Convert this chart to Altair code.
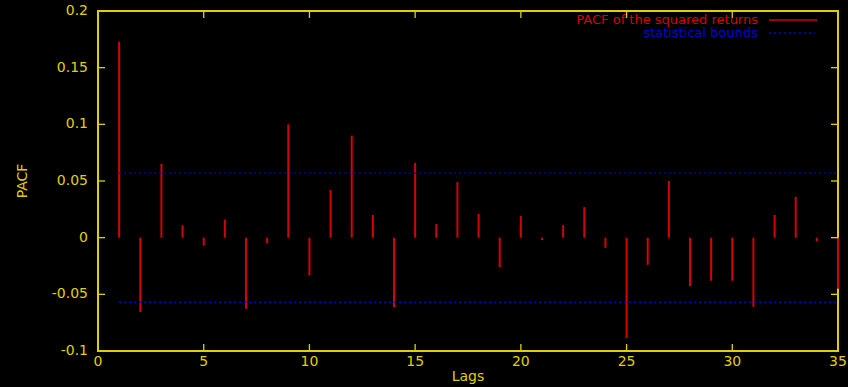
import altair as alt
import pandas as pd

# ---- data ----
lags = list(range(1, 36))
pacf = [0.173, -0.0656, 0.065, 0.011, -0.007, 0.016, -0.0627, -0.005, 0.100, -0.033,
        0.042, 0.090, 0.020, -0.0612, 0.066, 0.012, 0.049, 0.021, -0.026, 0.019,
        -0.002, 0.011, 0.027, -0.009, -0.0886, -0.024, 0.050, -0.0427, -0.038, -0.038,
        -0.061, 0.020, 0.036, -0.003, -0.045]
bound_values = [0.057, -0.057]
bound_start = [1, 1]
bound_end = [35, 35]
x_ticks = [0, 5, 10, 15, 20, 25, 30, 35]
x_tick_labels = ["0", "5", "10", "15", "20", "25", "30", "35"]
y_ticks = [-0.1, -0.05, 0, 0.05, 0.1, 0.15, 0.2]
y_tick_labels = ["-0.1", "-0.05", "0", "0.05", "0.1", "0.15", "0.2"]
x_title = ["Lags"]
y_title = ["PACF"]
legend_labels = ["PACF of the squared returns", "statistical bounds"]

YELLOW = "#e0d000"
RED = "#d80000"
BLUE = "#0000d8"
FONT = "DejaVu Sans"
FS = 14
LFS = 13

W, H = 740, 340

xscale = alt.Scale(domain=[0, 35], nice=False, zero=False)
yscale = alt.Scale(domain=[-0.1, 0.2], nice=False, zero=False)

df = pd.DataFrame({"lag": lags, "pacf": pacf, "base": [0] * len(lags)})
bdf = pd.DataFrame({"b": bound_values, "x1": bound_start, "x2": bound_end})
xt = pd.DataFrame({"v": x_ticks, "t": x_tick_labels})
yt = pd.DataFrame({"v": y_ticks, "t": y_tick_labels})

bars = alt.Chart(df).mark_rule(color=RED, strokeWidth=2).encode(
    x=alt.X("lag:Q", scale=xscale, axis=None),
    y=alt.Y("pacf:Q", scale=yscale, axis=None),
    y2="base:Q",
)

bounds = alt.Chart(bdf).mark_rule(color=BLUE, strokeWidth=1.3, strokeDash=[2, 3]).encode(
    x=alt.X("x1:Q", scale=xscale, axis=None),
    x2="x2:Q",
    y=alt.Y("b:Q", scale=yscale, axis=None),
)

ytick_l = alt.Chart(yt).mark_rule(color=YELLOW, strokeWidth=1.3).encode(
    y=alt.Y("v:Q", scale=yscale, axis=None), x=alt.value(0), x2=alt.value(7))
ytick_r = alt.Chart(yt).mark_rule(color=YELLOW, strokeWidth=1.3).encode(
    y=alt.Y("v:Q", scale=yscale, axis=None), x=alt.value(W - 7), x2=alt.value(W))
xtick_b = alt.Chart(xt).mark_rule(color=YELLOW, strokeWidth=1.3).encode(
    x=alt.X("v:Q", scale=xscale, axis=None), y=alt.value(H - 7), y2=alt.value(H))
xtick_t = alt.Chart(xt).mark_rule(color=YELLOW, strokeWidth=1.3).encode(
    x=alt.X("v:Q", scale=xscale, axis=None), y=alt.value(0), y2=alt.value(7))

ylab = alt.Chart(yt).mark_text(color=YELLOW, font=FONT, fontSize=FS,
                               align="right", baseline="middle").encode(
    y=alt.Y("v:Q", scale=yscale, axis=None), x=alt.value(-10), text="t:N")
xlab = alt.Chart(xt).mark_text(color=YELLOW, font=FONT, fontSize=FS,
                               align="center", baseline="middle").encode(
    x=alt.X("v:Q", scale=xscale, axis=None), y=alt.value(H + 11), text="t:N")
xtit = alt.Chart(pd.DataFrame({"t": x_title})).mark_text(
    color=YELLOW, font=FONT, fontSize=FS, align="center", baseline="middle").encode(
    x=alt.value(W / 2), y=alt.value(H + 26), text="t:N")
ytit = alt.Chart(pd.DataFrame({"t": y_title})).mark_text(
    color=YELLOW, font=FONT, fontSize=FS, align="center", baseline="middle", angle=270).encode(
    x=alt.value(-75), y=alt.value(H / 2), text="t:N")

leg1 = alt.Chart(pd.DataFrame({"t": [legend_labels[0]]})).mark_text(
    color=RED, font=FONT, fontSize=LFS, align="right", baseline="middle").encode(
    text="t:N", x=alt.value(660), y=alt.value(8.5))
leg2 = alt.Chart(pd.DataFrame({"t": [legend_labels[1]]})).mark_text(
    color=BLUE, font=FONT, fontSize=LFS, align="right", baseline="middle").encode(
    text="t:N", x=alt.value(660), y=alt.value(22))
legl1 = alt.Chart(pd.DataFrame({"t": [legend_labels[0]]})).mark_rule(
    color=RED, strokeWidth=1.3).encode(x=alt.value(671), x2=alt.value(719), y=alt.value(9))
legl2 = alt.Chart(pd.DataFrame({"t": [legend_labels[1]]})).mark_rule(
    color=BLUE, strokeWidth=1.3, strokeDash=[2, 3]).encode(
    x=alt.value(671), x2=alt.value(717), y=alt.value(22))

chart = alt.layer(
    bars, bounds, ytick_l, ytick_r, xtick_b, xtick_t,
    ylab, xlab, xtit, ytit, leg1, leg2, legl1, legl2
).properties(
    width=W, height=H,
    autosize=alt.AutoSizeParams(type="none"),
    padding={"left": 98, "top": 11, "right": 10, "bottom": 36},
    background="black",
).configure_view(
    stroke=YELLOW, strokeWidth=2, fill="black"
)

chart.save("out.html", embed_options={"renderer": "svg", "actions": False})
